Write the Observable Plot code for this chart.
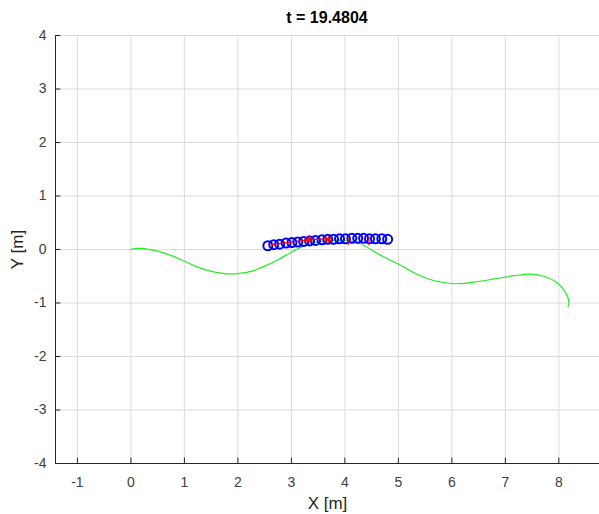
<!DOCTYPE html>
<html><head><meta charset="utf-8">
<script src="https://cdn.jsdelivr.net/npm/d3@7"></script>
<script src="https://cdn.jsdelivr.net/npm/@observablehq/plot@0.6"></script>
<style>
body{margin:0;background:#fff;font-family:"Liberation Sans",Arial,sans-serif;overflow:hidden;position:relative;}
#title{position:absolute;top:0;left:55px;width:544px;height:36px;line-height:36px;font-weight:bold;font-size:16px;color:#000;text-align:center;}
</style></head>
<body>
<div id="chart"></div>
<div id="title">t = 19.4804</div>
<script>
const pathX = [0,0.1,0.2,0.35,0.5,0.75,1.0,1.25,1.5,1.75,2.0,2.25,2.5,2.75,3.0,3.2,3.5,3.75,4.0,4.2,4.4,4.6,4.85,5.0,5.3,5.66,6.04,6.41,6.79,7.16,7.48,7.72,7.98,8.13,8.19,8.17];
const pathY = [0,0.02,0.02,0.0,-0.03,-0.11,-0.22,-0.33,-0.41,-0.45,-0.45,-0.41,-0.31,-0.19,-0.05,0.05,0.14,0.17,0.17,0.14,0.05,-0.07,-0.2,-0.27,-0.44,-0.58,-0.64,-0.61,-0.55,-0.49,-0.46,-0.5,-0.63,-0.81,-1.0,-1.07];
const circX = [2.56,2.67,2.78,2.90,3.01,3.12,3.23,3.34,3.45,3.57,3.68,3.79,3.90,4.01,4.13,4.24,4.35,4.46,4.57,4.69,4.80];
const circY = [0.07,0.09,0.10,0.12,0.13,0.14,0.15,0.16,0.17,0.18,0.19,0.19,0.20,0.20,0.21,0.21,0.21,0.20,0.20,0.20,0.19];
const redLineX = [2.62,3.0,3.44,3.72];
const redLineY = [0.09,0.14,0.19,0.20];
const starX = [3.33,3.69];
const starY = [0.19,0.19];
const markX = [4.06,4.45];
const markY = [0.15,0.15];
const xTicks = [-1,0,1,2,3,4,5,6,7,8];
const yTicks = [-4,-3,-2,-1,0,1,2,3,4];

const path = pathX.map((x,i)=>({x, y:pathY[i]}));
const circ = circX.map((x,i)=>({x, y:circY[i]}));
const red = redLineX.map((x,i)=>({x, y:redLineY[i]}));
const stars = starX.map((x,i)=>({x, y:starY[i]}));
const marks = markX.map((x,i)=>({x, y:markY[i]}));

const axisColor = "#262626";
const fmt = d => d < 0 ? "-" + Math.abs(d) : String(d);
const plot = Plot.plot({
  width: 599, height: 514,
  marginLeft: 55, marginRight: 0, marginTop: 35, marginBottom: 51,
  style: {fontFamily: '"Liberation Sans", Arial, sans-serif', fontSize: "14px", color: "#404040", background: "transparent", overflow: "visible"},
  x: {domain: [-1.41, 8.76]},
  y: {domain: [-4, 4]},
  marks: [
    Plot.gridX(xTicks, {stroke: "#dcdcdc", strokeOpacity: 1}),
    Plot.gridY(yTicks, {stroke: "#dcdcdc", strokeOpacity: 1}),
    Plot.axisX(xTicks, {tickSize: 0, tickPadding: 14, fontSize: 14, label: "X [m]", labelAnchor: "center", labelOffset: 45, tickFormat: fmt}),
    Plot.axisY(yTicks, {tickSize: 0, tickPadding: 9, fontSize: 14, label: "Y [m]", labelAnchor: "center", labelOffset: 45, tickFormat: fmt}),
    Plot.ruleX(xTicks, {x: d => d, y1: -4, y2: -3.9, stroke: axisColor}),
    Plot.ruleY(yTicks, {y: d => d, x1: -1.41, x2: -1.31, stroke: axisColor}),
    Plot.line(path, {x: "x", y: "y", stroke: "#22ee22", strokeWidth: 1.2, curve: "catmull-rom"}),
    Plot.dot(circ, {x: "x", y: "y", r: 4.5, stroke: "#0000ff", strokeWidth: 2, fill: "none"}),
    Plot.line(red, {x: "x", y: "y", stroke: "#ff0000", strokeWidth: 1.2}),
    Plot.dot(stars, {x: "x", y: "y", symbol: "asterisk", r: 4, stroke: "#ff0000", strokeWidth: 1.2}),
    Plot.ruleX(marks, {x: "x", y1: d => d.y - 0.08, y2: d => d.y + 0.08, stroke: "#ff0000", strokeWidth: 1.2}),
    Plot.ruleX([-1.41], {stroke: axisColor, strokeWidth: 1}),
    Plot.ruleY([-4], {stroke: axisColor, strokeWidth: 1})
  ]
});
document.getElementById("chart").appendChild(plot);
plot.querySelectorAll("text").forEach(t => {
  if (t.textContent.includes("[m]")) {
    t.textContent = t.textContent.replace(/\s*[→↑←↓]\s*/g, "").trim();
    t.setAttribute("font-size", "17");
    t.style.fontSize = "17px";
    t.setAttribute("fill", "#262626");
  }
});
</script>
</body></html>
